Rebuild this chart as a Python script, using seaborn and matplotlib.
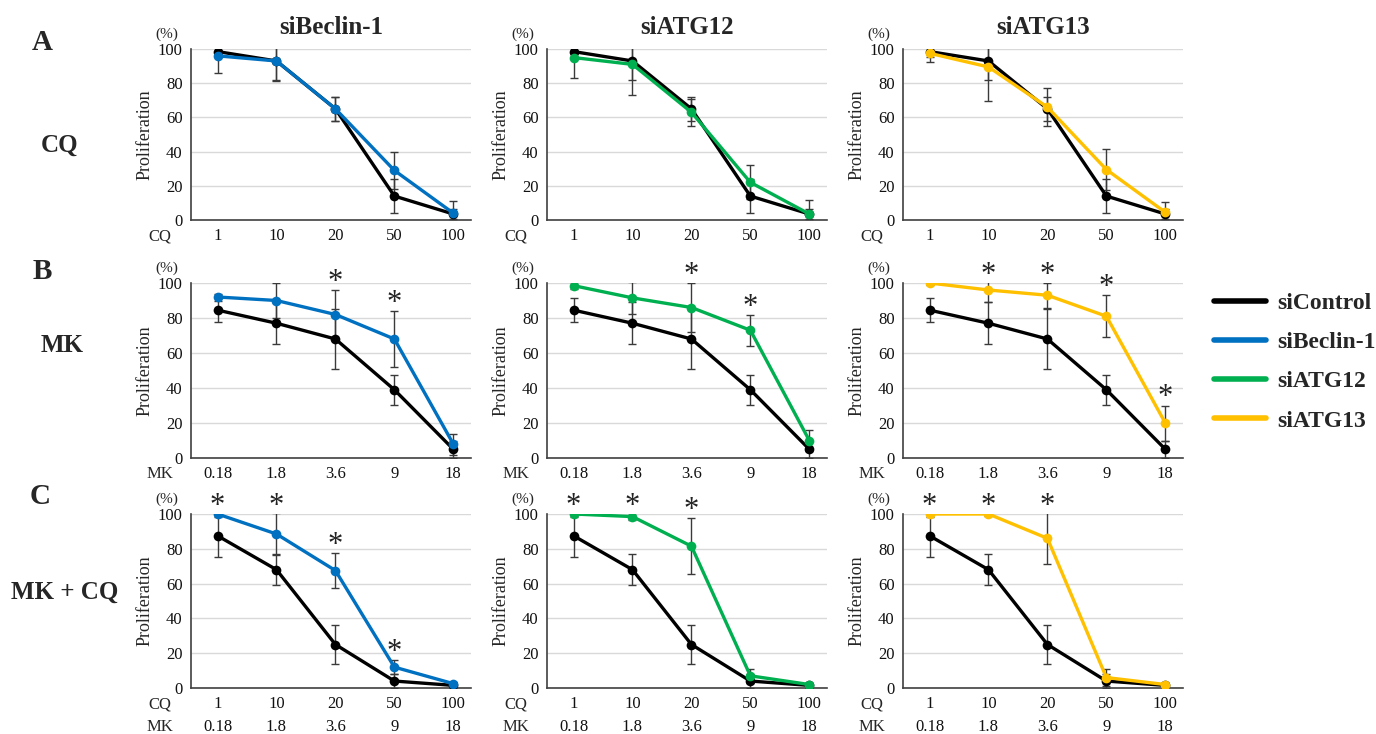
import numpy as np
import pandas as pd
import matplotlib
matplotlib.use('Agg')
import matplotlib.pyplot as plt
import seaborn as sns
from matplotlib.lines import Line2D

# dose labels
cq_doses = ['1', '10', '20', '50', '100']
mk_doses = ['0.18', '1.8', '3.6', '9', '18']

# series names / colours (Excel-like)
groups = ['siControl', 'siBeclin-1', 'siATG12', 'siATG13']
colors = {'siControl': '#000000', 'siBeclin-1': '#0070C0',
          'siATG12': '#00B050', 'siATG13': '#FFC000'}

# ---- values (% proliferation, mean and error) ----
# A: CQ
ctrl_cq = [98.5, 93, 65, 14, 3.5]
ctrl_cq_sd = [3, 11, 7, 10, 3]
beclin_cq = [96, 93, 65, 29, 4]
beclin_cq_sd = [10, 12, 7, 11, 7]
atg12_cq = [95, 91, 63, 22, 3.5]
atg12_cq_sd = [12, 18, 8, 10, 8]
atg13_cq = [97.5, 89.5, 66, 29.5, 4.5]
atg13_cq_sd = [5, 20, 11, 12, 6]

# B: MK
ctrl_mk = [84.5, 77, 68, 39, 5]
ctrl_mk_sd = [7, 12, 17, 8.5, 5]
beclin_mk = [92, 90, 82, 68, 8]
beclin_mk_sd = [2, 10, 14, 16, 6]
atg12_mk = [98.5, 91.5, 86, 73, 10]
atg12_mk_sd = [2, 9, 14, 9, 6]
atg13_mk = [100, 96, 93, 81, 20]
atg13_mk_sd = [1, 7, 7, 12, 10]

# C: MK + CQ
ctrl_combo = [87.5, 68, 25, 4, 1.5]
ctrl_combo_sd = [12, 9, 11, 4, 1]
beclin_combo = [100, 88.5, 67.5, 12, 2.5]
beclin_combo_sd = [2, 12, 10, 4, 1]
atg12_combo = [100, 98.5, 81.5, 7, 2]
atg12_combo_sd = [2, 2, 16, 4, 1]
atg13_combo = [100, 100, 86, 6, 2]
atg13_combo_sd = [2, 1, 15, 5, 1]

# significance stars (dose index)
stars = {
    ('MK', 'siBeclin-1'): [2, 3],
    ('MK', 'siATG12'): [2, 3],
    ('MK', 'siATG13'): [1, 2, 3, 4],
    ('MK+CQ', 'siBeclin-1'): [0, 1, 2, 3],
    ('MK+CQ', 'siATG12'): [0, 1, 2],
    ('MK+CQ', 'siATG13'): [0, 1, 2],
}

table = {
    'CQ': {'siControl': (ctrl_cq, ctrl_cq_sd), 'siBeclin-1': (beclin_cq, beclin_cq_sd),
           'siATG12': (atg12_cq, atg12_cq_sd), 'siATG13': (atg13_cq, atg13_cq_sd)},
    'MK': {'siControl': (ctrl_mk, ctrl_mk_sd), 'siBeclin-1': (beclin_mk, beclin_mk_sd),
           'siATG12': (atg12_mk, atg12_mk_sd), 'siATG13': (atg13_mk, atg13_mk_sd)},
    'MK+CQ': {'siControl': (ctrl_combo, ctrl_combo_sd), 'siBeclin-1': (beclin_combo, beclin_combo_sd),
              'siATG12': (atg12_combo, atg12_combo_sd), 'siATG13': (atg13_combo, atg13_combo_sd)},
}

rows = []
for treat, d in table.items():
    for g, (vals, sds) in d.items():
        for i, (v, s) in enumerate(zip(vals, sds)):
            rows.append({'treatment': treat, 'group': g, 'pos': i, 'value': v, 'sd': s})
df = pd.DataFrame(rows)

sns.set_theme(style='white')
plt.rcParams['font.family'] = ['Liberation Serif', 'DejaVu Serif']

fig = plt.figure(figsize=(13.76, 7.34), dpi=100)
W, H = 1376, 734

col_left = [191, 547, 903]
col_w = 280
row_px = [(49, 220), (283, 458), (514, 688)]   # (top, bottom) pixel of y=100 and y=0
treatments = ['CQ', 'MK', 'MK+CQ']
knockdowns = ['siBeclin-1', 'siATG12', 'siATG13']

for r, treat in enumerate(treatments):
    top, bot = row_px[r]
    for c, kd in enumerate(knockdowns):
        ax = fig.add_axes([col_left[c] / W, 1 - bot / H, col_w / W, (bot - top) / H])
        sub = df[(df.treatment == treat) & (df.group.isin(['siControl', kd]))]

        for g in ['siControl', kd]:
            s = sub[sub.group == g]
            ax.errorbar(s.pos, s.value, yerr=s.sd, fmt='none', ecolor='#3a3a3a',
                        elinewidth=1, capsize=3, capthick=1, zorder=3)

        sns.lineplot(data=sub, x='pos', y='value', hue='group',
                     hue_order=['siControl', kd], palette=colors,
                     marker='o', markersize=7, markeredgewidth=0,
                     linewidth=2.4, legend=False, ax=ax, zorder=4)

        # stars above the knockdown error bar
        ks = sub[sub.group == kd].set_index('pos')
        for i in stars.get((treat, kd), []):
            ytop = min(ks.loc[i, 'value'] + ks.loc[i, 'sd'], 100)
            ax.annotate('*', xy=(i, ytop), xytext=(0, -7), textcoords='offset pixels',
                        ha='center', va='bottom', fontsize=22, color='#222222',
                        annotation_clip=False)

        ax.set_xlim(-0.45, 4.3)
        ax.set_ylim(0, 100)
        ax.set_yticks([0, 20, 40, 60, 80, 100])
        ax.set_xticks(range(5))
        if treat == 'CQ':
            ax.set_xticklabels(cq_doses)
            left_lab = 'CQ'
        elif treat == 'MK':
            ax.set_xticklabels(mk_doses)
            left_lab = 'MK'
        else:
            ax.set_xticklabels([f'{a}\n{b}' for a, b in zip(cq_doses, mk_doses)],
                               linespacing=1.55)
            left_lab = 'CQ\nMK'
        ax.tick_params(axis='both', length=0, labelsize=12, pad=6, colors='#111111')
        ax.set_xlabel('')
        ax.set_ylabel('Proliferation', fontsize=13, labelpad=3)
        ax.yaxis.grid(True, color='#d9d9d9', linewidth=1)
        ax.set_axisbelow(True)
        for sp in ['top', 'right']:
            ax.spines[sp].set_visible(False)
        for sp in ['left', 'bottom']:
            ax.spines[sp].set_color('#404040')
            ax.spines[sp].set_linewidth(1.2)

        ax.annotate('(%)', xy=(0, 1), xycoords='axes fraction', xytext=(-24, 15),
                    textcoords='offset pixels', ha='center', va='center', fontsize=11)
        ax.annotate(left_lab, xy=(0, 0), xycoords='axes fraction', xytext=(-31, -8.3),
                    textcoords='offset pixels', ha='center', va='top', fontsize=12,
                    linespacing=1.55)
        if r == 0:
            ax.set_title(kd, fontsize=18, fontweight='bold', pad=11)

# row labels
for lab, (x, y) in zip(['A', 'B', 'C'], [(42, 42), (42, 272), (40, 497)]):
    fig.text(x / W, 1 - y / H, lab, fontsize=21, fontweight='bold', ha='center', va='center')
for lab, (x, y) in zip(['CQ', 'MK', 'MK + CQ'], [(60, 145), (62, 345), (65, 592)]):
    fig.text(x / W, 1 - y / H, lab, fontsize=18, fontweight='bold', ha='center', va='center')

handles = [Line2D([0], [0], color=colors[g], lw=4) for g in groups]
fig.legend(handles, groups, loc='center left', bbox_to_anchor=(1214 / W, 1 - 362 / H),
           frameon=False, prop={'weight': 'bold', 'size': 17},
           handlelength=2.2, handletextpad=0.5, labelspacing=0.75, borderpad=0, borderaxespad=0)

fig.savefig('out.png', dpi=100)
